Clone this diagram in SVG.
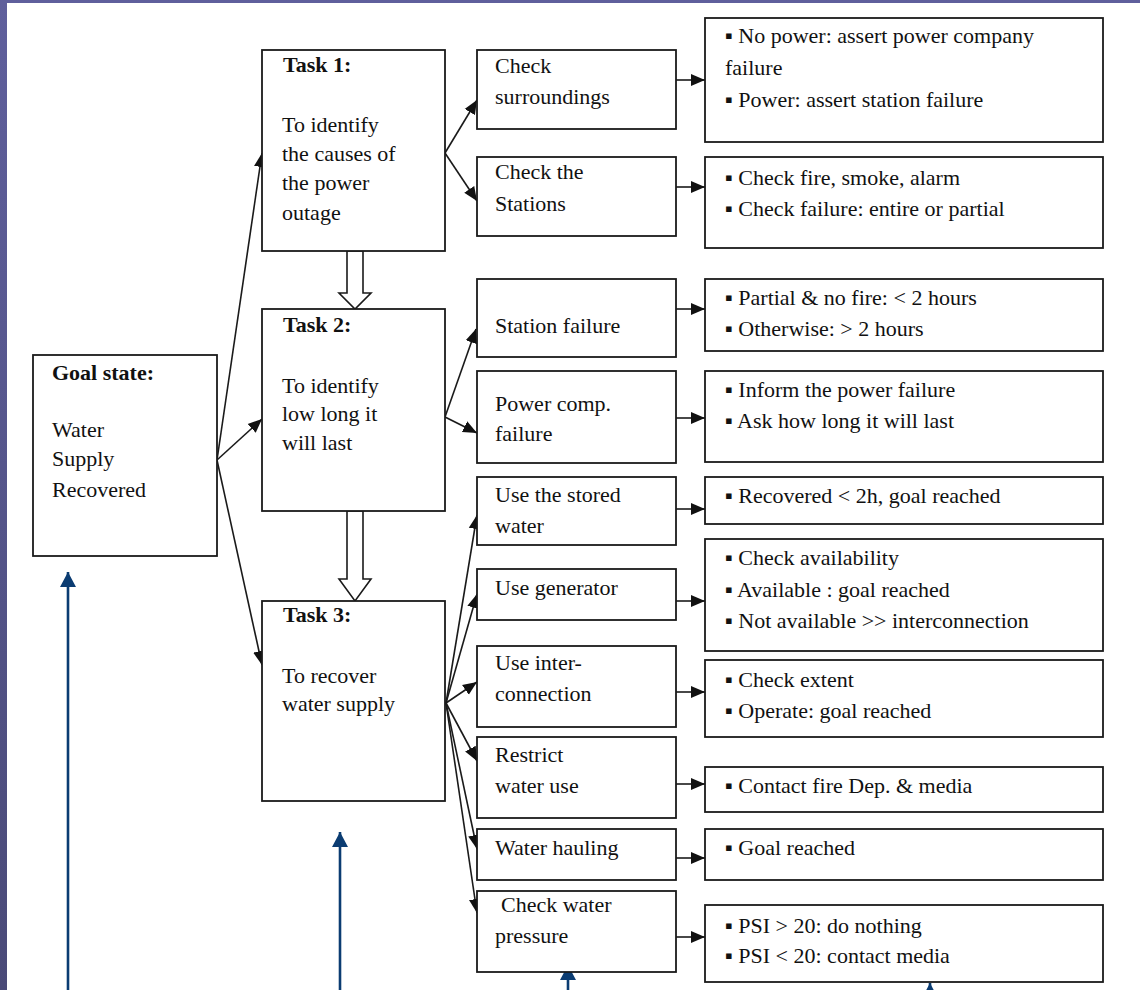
<svg xmlns="http://www.w3.org/2000/svg" width="1140" height="990" viewBox="0 0 1140 990">
  <style>
    .box { fill: #ffffff; stroke: #1a1a1a; stroke-width: 1.8; }
    .b { font-weight: bold; }
    .link { stroke: #1a1a1a; stroke-width: 1.6; fill: none; marker-end: url(#head); }
    .hollow { fill: #ffffff; stroke: #1a1a1a; stroke-width: 1.6; }
    .ref { stroke: #0b3c72; stroke-width: 2.6; fill: none; marker-end: url(#bluehead); }
  </style>
  <defs>
    <linearGradient id="frame" x1="0" y1="0" x2="0" y2="1">
      <stop offset="0" stop-color="#5f5f9c"/>
      <stop offset="1" stop-color="#4a4a78"/>
    </linearGradient>
    <marker id="head" markerUnits="userSpaceOnUse" markerWidth="16" markerHeight="14" refX="14" refY="7" orient="auto">
      <path d="M0,1 L14,7 L0,13 z" fill="#111"/>
    </marker>
    <marker id="bluehead" markerUnits="userSpaceOnUse" markerWidth="18" markerHeight="16" refX="15" refY="8" orient="auto">
      <path d="M0,0 L15,8 L0,16 z" fill="#0b3c72"/>
    </marker>
  </defs>

  <!-- page frame -->
  <rect x="0" y="0" width="1140" height="990" fill="url(#frame)"/>
  <rect x="7" y="3" width="1133" height="987" fill="#ffffff"/>

  <!-- connectors -->
  <g id="connectors">
    <!-- goal to tasks -->
    <line class="link" x1="217" y1="460" x2="262" y2="153"/>
    <line class="link" x1="217" y1="460" x2="262" y2="419"/>
    <line class="link" x1="217" y1="460" x2="262" y2="665"/>
    <!-- task 1 -->
    <line class="link" x1="445" y1="153" x2="477" y2="100"/>
    <line class="link" x1="445" y1="153" x2="477" y2="201"/>
    <!-- task 2 -->
    <line class="link" x1="445" y1="417" x2="476" y2="329"/>
    <line class="link" x1="445" y1="417" x2="477" y2="433"/>
    <!-- task 3 -->
    <line class="link" x1="446" y1="703" x2="477" y2="515"/>
    <line class="link" x1="446" y1="703" x2="477" y2="594"/>
    <line class="link" x1="446" y1="703" x2="477" y2="682"/>
    <line class="link" x1="446" y1="703" x2="477" y2="761"/>
    <line class="link" x1="446" y1="703" x2="477" y2="849"/>
    <line class="link" x1="446" y1="703" x2="477" y2="913"/>
    <!-- actions to outcomes -->
    <line class="link" x1="676" y1="80" x2="705" y2="80"/>
    <line class="link" x1="676" y1="187" x2="705" y2="187"/>
    <line class="link" x1="676" y1="309" x2="705" y2="309"/>
    <line class="link" x1="676" y1="418" x2="705" y2="418"/>
    <line class="link" x1="676" y1="509" x2="705" y2="509"/>
    <line class="link" x1="676" y1="601" x2="705" y2="601"/>
    <line class="link" x1="676" y1="692" x2="705" y2="692"/>
    <line class="link" x1="676" y1="784" x2="705" y2="784"/>
    <line class="link" x1="676" y1="858" x2="705" y2="858"/>
    <line class="link" x1="676" y1="937" x2="705" y2="937"/>
    <!-- task sequence (hollow arrows) -->
    <path class="hollow" d="M347,251 L363,251 L363,293 L371,293 L355,309 L339,293 L347,293 z"/>
    <path class="hollow" d="M347,511 L363,511 L363,579 L371,579 L355,601 L339,579 L347,579 z"/>
    <!-- pointers from below -->
    <line class="ref" x1="68" y1="992" x2="68" y2="572"/>
    <line class="ref" x1="340" y1="992" x2="340" y2="832"/>
    <line class="ref" x1="568" y1="992" x2="568" y2="965"/>
    <line class="ref" x1="930" y1="992" x2="930" y2="983"/>
  </g>

  <g font-family="Liberation Serif" font-size="22" fill="#111">
  <!-- goal -->
  <g id="goal">
    <rect class="box" x="33" y="355" width="184" height="201"/>
    <text class="b" x="52" y="380">Goal state:</text>
    <text x="52" y="437">Water</text>
    <text x="52" y="466">Supply</text>
    <text x="52" y="497">Recovered</text>
  </g>

  <!-- tasks -->
  <g id="task1">
    <rect class="box" x="262" y="50" width="183" height="201"/>
    <text class="b" x="283" y="72">Task 1:</text>
    <text x="282" y="132">To identify</text>
    <text x="282" y="161">the causes of</text>
    <text x="282" y="190">the power</text>
    <text x="282" y="220">outage</text>
  </g>
  <g id="task2">
    <rect class="box" x="262" y="309" width="183" height="202"/>
    <text class="b" x="283" y="332">Task 2:</text>
    <text x="282" y="393">To identify</text>
    <text x="282" y="421">low long it</text>
    <text x="282" y="450">will last</text>
  </g>
  <g id="task3">
    <rect class="box" x="262" y="601" width="183" height="200"/>
    <text class="b" x="283" y="622">Task 3:</text>
    <text x="282" y="683">To recover</text>
    <text x="282" y="711">water supply</text>
  </g>

  <!-- actions -->
  <g id="check-surroundings">
    <rect class="box" x="477" y="50" width="199" height="79"/>
    <text x="495" y="73">Check</text>
    <text x="495" y="104">surroundings</text>
  </g>
  <g id="check-stations">
    <rect class="box" x="477" y="157" width="199" height="79"/>
    <text x="495" y="179">Check the</text>
    <text x="495" y="211">Stations</text>
  </g>
  <g id="station-failure">
    <rect class="box" x="477" y="279" width="199" height="78"/>
    <text x="495" y="333">Station failure</text>
  </g>
  <g id="power-comp-failure">
    <rect class="box" x="477" y="371" width="199" height="92"/>
    <text x="495" y="411">Power comp.</text>
    <text x="495" y="441">failure</text>
  </g>
  <g id="use-stored-water">
    <rect class="box" x="477" y="477" width="199" height="68"/>
    <text x="495" y="502">Use the stored</text>
    <text x="495" y="533">water</text>
  </g>
  <g id="use-generator">
    <rect class="box" x="477" y="569" width="199" height="51"/>
    <text x="495" y="595">Use generator</text>
  </g>
  <g id="use-interconnection">
    <rect class="box" x="477" y="646" width="199" height="81"/>
    <text x="495" y="670">Use inter-</text>
    <text x="495" y="701">connection</text>
  </g>
  <g id="restrict-water-use">
    <rect class="box" x="477" y="737" width="199" height="81"/>
    <text x="495" y="762">Restrict</text>
    <text x="495" y="793">water use</text>
  </g>
  <g id="water-hauling">
    <rect class="box" x="477" y="829" width="199" height="51"/>
    <text x="495" y="855">Water hauling</text>
  </g>
  <g id="check-water-pressure">
    <rect class="box" x="477" y="891" width="199" height="81"/>
    <text x="501" y="912">Check water</text>
    <text x="495" y="943">pressure</text>
  </g>

  <!-- outcomes -->
  <g id="out-surroundings">
    <rect class="box" x="705" y="18" width="398" height="124"/>
    <text x="725" y="43">▪ No power: assert power company</text>
    <text x="725" y="75">failure</text>
    <text x="725" y="107">▪ Power: assert station failure</text>
  </g>
  <g id="out-stations">
    <rect class="box" x="705" y="157" width="398" height="91"/>
    <text x="725" y="185">▪ Check fire, smoke, alarm</text>
    <text x="725" y="216">▪ Check failure: entire or partial</text>
  </g>
  <g id="out-station-failure">
    <rect class="box" x="705" y="279" width="398" height="72"/>
    <text x="725" y="305">▪ Partial &amp; no fire: &lt; 2 hours</text>
    <text x="725" y="336">▪ Otherwise: &gt; 2 hours</text>
  </g>
  <g id="out-power-comp">
    <rect class="box" x="705" y="371" width="398" height="91"/>
    <text x="725" y="397">▪ Inform the power failure</text>
    <text x="725" y="428">▪ Ask how long it will last</text>
  </g>
  <g id="out-stored-water">
    <rect class="box" x="705" y="477" width="398" height="47"/>
    <text x="725" y="503">▪ Recovered &lt; 2h, goal reached</text>
  </g>
  <g id="out-generator">
    <rect class="box" x="705" y="539" width="398" height="112"/>
    <text x="725" y="565">▪ Check availability</text>
    <text x="725" y="597">▪ Available : goal reached</text>
    <text x="725" y="628">▪ Not available &gt;&gt; interconnection</text>
  </g>
  <g id="out-interconnection">
    <rect class="box" x="705" y="660" width="398" height="77"/>
    <text x="725" y="687">▪ Check extent</text>
    <text x="725" y="718">▪ Operate: goal reached</text>
  </g>
  <g id="out-restrict">
    <rect class="box" x="705" y="767" width="398" height="45"/>
    <text x="725" y="793">▪ Contact fire Dep. &amp; media</text>
  </g>
  <g id="out-hauling">
    <rect class="box" x="705" y="829" width="398" height="51"/>
    <text x="725" y="855">▪ Goal reached</text>
  </g>
  <g id="out-pressure">
    <rect class="box" x="705" y="905" width="398" height="77"/>
    <text x="725" y="933">▪ PSI &gt; 20: do nothing</text>
    <text x="725" y="963">▪ PSI &lt; 20: contact media</text>
  </g>
  </g>
</svg>
